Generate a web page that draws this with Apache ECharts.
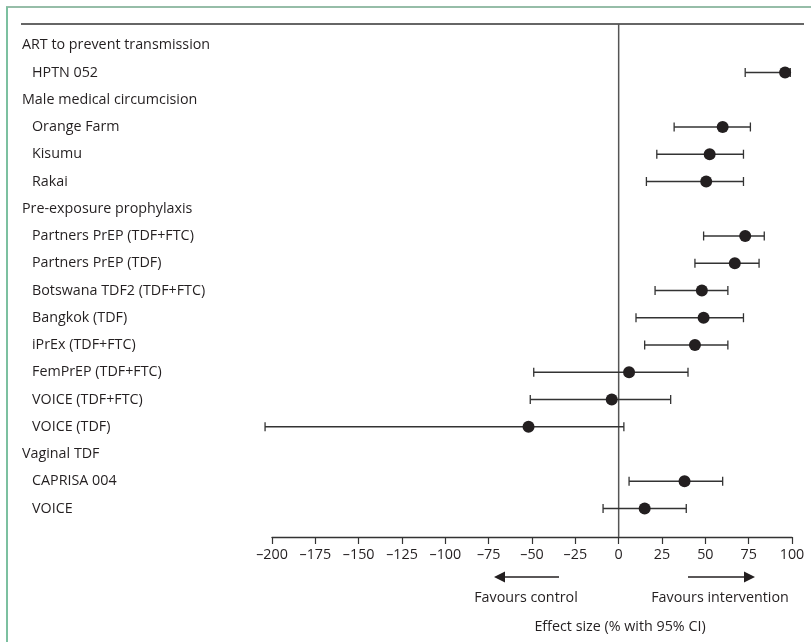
<!DOCTYPE html>
<html>
<head>
<meta charset="utf-8">
<script src="https://cdn.jsdelivr.net/npm/echarts@6/dist/echarts.min.js"></script>
<style>
  html, body { margin: 0; padding: 0; background: #fff; }
  #chart { width: 811px; height: 642px; }
</style>
</head>
<body>
<div id="chart"></div>
<script>
// rows from top to bottom; headers have no estimate
var rowLabels = [
  "ART to prevent transmission", "HPTN 052",
  "Male medical circumcision", "Orange Farm", "Kisumu", "Rakai",
  "Pre-exposure prophylaxis", "Partners PrEP (TDF+FTC)", "Partners PrEP (TDF)",
  "Botswana TDF2 (TDF+FTC)", "Bangkok (TDF)", "iPrEx (TDF+FTC)",
  "FemPrEP (TDF+FTC)", "VOICE (TDF+FTC)", "VOICE (TDF)",
  "Vaginal TDF", "CAPRISA 004", "VOICE"
];
var isHeader = [1, 0, 1, 0, 0, 0, 1, 0, 0, 0, 0, 0, 0, 0, 0, 1, 0, 0];
var effect = [null, 96, null, 60, 52.5, 50.5, null, 73, 67, 48, 49, 44, 6, -4, -52, null, 38, 15];
var ciLow  = [null, 73, null, 32, 22, 16, null, 49, 44, 21, 10, 15, -49, -51, -204, null, 6, -9];
var ciHigh = [null, 99, null, 76, 72, 72, null, 84, 81, 63, 72, 63, 40, 30, 3, null, 60, 39];
var xTicks = { min: -200, max: 100, step: 25 };

var ink = "#231f20";
var font = "Open Sans";
var fs = 14.3;

var pointData = [], barData = [];
for (var i = 0; i < rowLabels.length; i++) {
  if (effect[i] == null) continue;
  pointData.push([effect[i], i]);
  barData.push([ciLow[i], ciHigh[i], i]);
}

function note(text, x, y) {
  return {
    type: "text",
    style: { text: text, x: x, y: y, fill: ink, font: fs + "px " + font,
      textAlign: "center", textVerticalAlign: "middle", align: "center", verticalAlign: "middle" }
  };
}

var myChart = echarts.init(document.getElementById("chart"));
myChart.setOption({
  backgroundColor: "#fff",
  animation: false,
  textStyle: { fontFamily: font },
  grid: { left: 272, right: 19, top: 31.6, bottom: 119.9 },
  xAxis: {
    type: "value",
    min: xTicks.min,
    max: xTicks.max,
    interval: xTicks.step,
    offset: 14.9,
    axisLine: { show: true, lineStyle: { color: "#333", width: 1.4 } },
    axisTick: { show: true, length: 7, lineStyle: { color: "#333", width: 1.2 } },
    splitLine: { show: false },
    axisLabel: {
      margin: 11,
      color: ink,
      fontSize: fs,
      fontFamily: font,
      formatter: function(v) {
        return v < 0 ? "\u2013" + Math.abs(v) : String(v);
      }
    }
  },
  yAxis: {
    type: "category",
    inverse: true,
    data: rowLabels,
    axisLine: { show: false },
    axisTick: { show: false },
    splitLine: { show: false },
    axisLabel: {
      align: "left",
      margin: 250,
      color: ink,
      fontSize: fs,
      fontFamily: font,
      formatter: function(v, idx) {
        return isHeader[idx] ? "{h|" + v + "}" : "{i|" + v + "}";
      },
      rich: {
        h: { fontSize: fs, color: ink, fontFamily: font },
        i: { fontSize: fs, color: ink, fontFamily: font, padding: [0, 0, 0, 10] }
      }
    }
  },
  series: [
    {
      // line at no effect
      type: "custom",
      data: [[0]],
      silent: true,
      z: 1,
      renderItem: function(params, api) {
        var cs = params.coordSys;
        var x = api.coord([0, 0])[0];
        return {
          type: "line",
          shape: { x1: x, y1: cs.y - 7.6, x2: x, y2: cs.y + cs.height + 14.9 },
          style: { stroke: "#555", lineWidth: 1.5 }
        };
      }
    },
    {
      name: "CI",
      type: "custom",
      data: barData,
      z: 2,
      renderItem: function(params, api) {
        var a = api.coord([api.value(0), api.value(2)]);
        var b = api.coord([api.value(1), api.value(2)]);
        var st = { stroke: "#333", lineWidth: 1.3 };
        return {
          type: "group",
          children: [
            { type: "line", shape: { x1: a[0], y1: a[1], x2: b[0], y2: b[1] }, style: st },
            { type: "line", shape: { x1: a[0], y1: a[1] - 4.5, x2: a[0], y2: a[1] + 4.5 }, style: st },
            { type: "line", shape: { x1: b[0], y1: b[1] - 4.5, x2: b[0], y2: b[1] + 4.5 }, style: st }
          ]
        };
      }
    },
    {
      name: "Effect",
      type: "scatter",
      data: pointData,
      symbol: "circle",
      symbolSize: 12,
      itemStyle: { color: ink, opacity: 1 },
      z: 3
    }
  ],
  graphic: [
    // frame
    { type: "line", shape: { x1: 6, y1: 7, x2: 811, y2: 7 }, style: { stroke: "#2e7d52", lineWidth: 1.2 } },
    { type: "line", shape: { x1: 7, y1: 7, x2: 7, y2: 642 }, style: { stroke: "#7cc0a0", lineWidth: 2 } },
    // top rule
    { type: "line", shape: { x1: 21, y1: 24, x2: 804, y2: 24 }, style: { stroke: "#333", lineWidth: 1.4 } },
    // arrows
    { type: "line", shape: { x1: 503, y1: 577, x2: 559, y2: 577 }, style: { stroke: ink, lineWidth: 1.4 } },
    { type: "polygon", shape: { points: [[494, 577], [505, 571.5], [505, 582.5]] }, style: { fill: ink } },
    { type: "line", shape: { x1: 688, y1: 577, x2: 746, y2: 577 }, style: { stroke: ink, lineWidth: 1.4 } },
    { type: "polygon", shape: { points: [[755, 577], [744, 571.5], [744, 582.5]] }, style: { fill: ink } },
    note("Favours control", 526, 598),
    note("Favours intervention", 720, 598),
    note("Effect size (% with 95% CI)", 620, 627)
  ]
});
</script>
</body>
</html>
